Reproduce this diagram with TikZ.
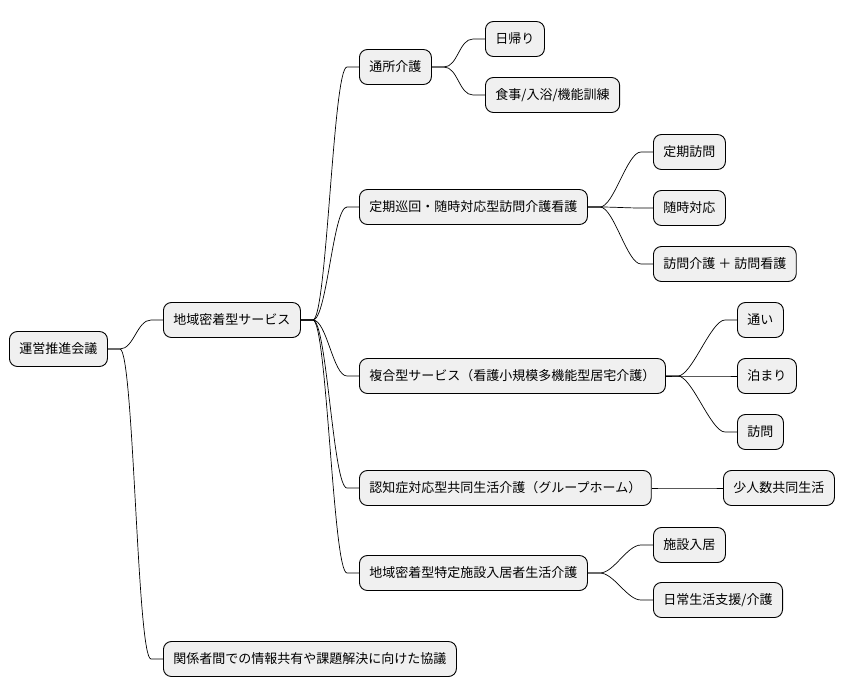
\documentclass[tikz,border=0pt]{standalone}
\usepackage{fontspec}
\newfontfamily\cjk{Noto Sans CJK JP}
\begin{document}
\begin{tikzpicture}[x=1pt,y=-1pt,
  n/.style={draw=black,fill=gray!12,rounded corners=8pt,line width=0.9pt,inner xsep=10pt,minimum height=35pt,font=\cjk\fontsize{13}{15}\selectfont,anchor=west},
  e/.style={line width=0.7pt}]
\useasboundingbox (0,0) rectangle (852,696);
\node[n] (r) at (9,349) {運営推進会議};
\node[n] (a) at (163,320) {地域密着型サービス};
\node[n] (b) at (163,659) {関係者間での情報共有や課題解決に向けた協議};
\node[n] (a1) at (359,67) {通所介護};
\node[n] (a11) at (485,39) {日帰り};
\node[n] (a12) at (485,95) {食事/入浴/機能訓練};
\node[n] (a2) at (359,207) {定期巡回・随時対応型訪問介護看護};
\node[n] (a21) at (653,152) {定期訪問};
\node[n] (a22) at (653,208) {随時対応};
\node[n] (a23) at (653,264) {訪問介護 ＋ 訪問看護};
\node[n] (a3) at (359,376) {複合型サービス（看護小規模多機能型居宅介護）};
\node[n] (a31) at (737,320) {通い};
\node[n] (a32) at (737,376) {泊まり};
\node[n] (a33) at (737,432) {訪問};
\node[n] (a4) at (359,488) {認知症対応型共同生活介護（グループホーム）};
\node[n] (a41) at (723,488) {少人数共同生活};
\node[n] (a5) at (359,573) {地域密着型特定施設入居者生活介護};
\node[n] (a51) at (653,545) {施設入居};
\node[n] (a52) at (653,600) {日常生活支援/介護};
\foreach \p/\c in {r/a,r/b,a/a1,a/a2,a/a3,a/a4,a/a5,a1/a11,a1/a12,a2/a21,a2/a22,a2/a23,a3/a31,a3/a32,a3/a33,a4/a41,a5/a51,a5/a52}
  \draw[e] (\p.east) -- ++(12,0) .. controls +(14,0) and +(-14,0) .. ([xshift=-12pt]\c.west) -- (\c.west);
\end{tikzpicture}
\end{document}
